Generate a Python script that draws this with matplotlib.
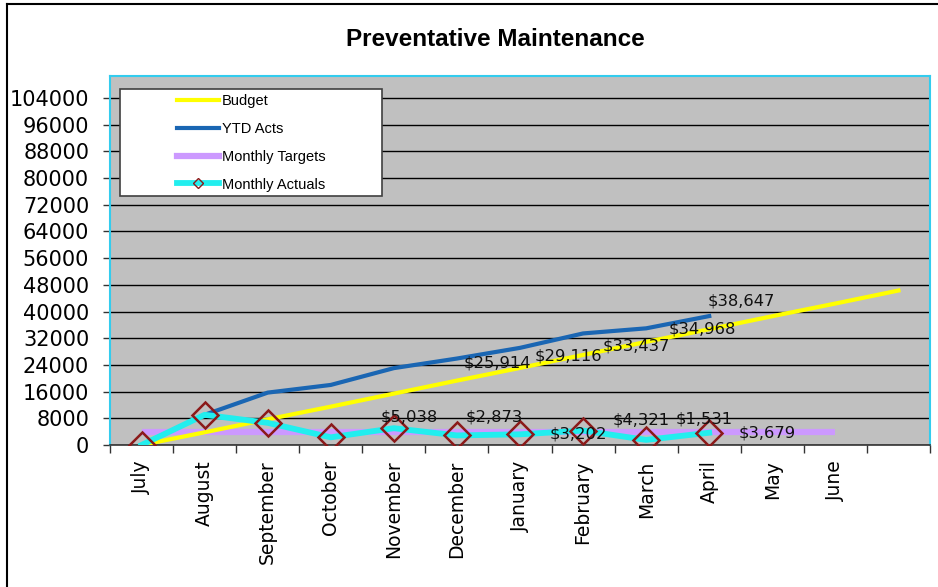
import matplotlib
matplotlib.use("Agg")
import matplotlib.pyplot as plt
import numpy as np
from matplotlib.lines import Line2D
from matplotlib.patches import Rectangle

# ---- data ----
months = ["July", "August", "September", "October", "November", "December",
          "January", "February", "March", "April", "May", "June", ""]
budget = [0, 3800, 7700, 11500, 15400, 19300, 23100, 27000, 30900, 34700, 38600, 42400, 46300]
ytd_acts = [0, 9050, 15700, 18003, 23041, 25914, 29116, 33437, 34968, 38647]
monthly_targets = [3858] * 12
monthly_actuals = [0, 9050, 6650, 2303, 5038, 2873, 3202, 4321, 1531, 3679]

# which points carry a value label, and where the label sits (pixels from the point)
ytd_lab_idx = [5, 6, 7, 8, 9]
ytd_lab_off = [(40, -4), (48, -8), (53, -13), (56, -1), (32, 15)]
act_lab_idx = [4, 5, 6, 7, 8, 9]
act_lab_off = [(15, 11), (37, 18), (58, 0), (58, 11), (58, 21), (58, 0)]

BG = "#c0c0c0"
YELLOW = "#ffff00"
BLUE = "#1a66b3"
LAV = "#cc99ff"
CYAN = "#22eeee"
DRED = "#8b1a1a"

fig = plt.figure(figsize=(9.38, 5.87), dpi=100)
ax = fig.add_axes([110 / 938, 1 - 445 / 587, 820 / 938, 369 / 587])
ax.set_facecolor(BG)

x_b = np.arange(len(budget))
ax.plot(np.arange(len(monthly_targets)), monthly_targets, color=LAV, lw=4.5,
        solid_capstyle="butt", zorder=2, label="Monthly Targets")
ax.plot(x_b, budget, color=YELLOW, lw=3.0, zorder=3, label="Budget")
ax.plot(np.arange(len(ytd_acts)), ytd_acts, color=BLUE, lw=3.0, zorder=4, label="YTD Acts")
ax.plot(np.arange(len(monthly_actuals)), monthly_actuals, color=CYAN, lw=4.2, zorder=5,
        marker="D", ms=13, mfc="none", mec=DRED, mew=1.8, label="Monthly Actuals")

lab_font = dict(family="DejaVu Sans", size=11.8, color="#111111")
for i, (dx, dy) in zip(ytd_lab_idx, ytd_lab_off):
    ax.annotate("${:,}".format(ytd_acts[i]), (i, ytd_acts[i]), xytext=(dx * 0.72, dy * 0.72),
                textcoords="offset points", ha="center", va="center", zorder=6, **lab_font)
for i, (dx, dy) in zip(act_lab_idx, act_lab_off):
    ax.annotate("${:,}".format(monthly_actuals[i]), (i, monthly_actuals[i]), xytext=(dx * 0.72, dy * 0.72),
                textcoords="offset points", ha="center", va="center", zorder=6, **lab_font)

# axes
ax.set_xlim(-0.5, len(months) - 0.5)
ax.set_ylim(0, 110600)
ax.set_yticks(np.arange(0, 104001, 8000))
ax.yaxis.grid(True, color="black", lw=1.0, zorder=1)
ax.set_axisbelow(True)
ax.tick_params(axis="y", length=5, width=1, color="#333333", pad=10, labelsize=15)
for t in ax.get_yticklabels():
    t.set_family("DejaVu Sans")

ax.set_xticks(np.arange(len(months) + 1) - 0.5)
ax.set_xticklabels([])
ax.tick_params(axis="x", which="major", length=6, width=1, color="#333333")
ax.set_xticks(np.arange(len(months)), minor=True)
ax.set_xticklabels(months, minor=True, rotation=90, fontsize=13.5, family="DejaVu Sans")
ax.tick_params(axis="x", which="minor", length=0, pad=11)

for s in ["left", "top", "right"]:
    ax.spines[s].set_color("#33ccee")
    ax.spines[s].set_linewidth(1.5)
ax.spines["bottom"].set_color("#333333")
ax.spines["bottom"].set_linewidth(1.2)

# legend (Excel style box, content centred inside)
ax.add_patch(Rectangle((10 / 820, (445 - 196) / 369), 262 / 820, 107 / 369,
                       transform=ax.transAxes, facecolor="white", edgecolor="#404040",
                       lw=1.2, zorder=7, clip_on=False))
handles = [
    Line2D([], [], color=YELLOW, lw=3.0),
    Line2D([], [], color=BLUE, lw=3.0),
    Line2D([], [], color=LAV, lw=4.5),
    Line2D([], [], color=CYAN, lw=4.2, marker="D", ms=5, mfc="none", mec=DRED, mew=1),
]
leg = ax.legend(handles, ["Budget", "YTD Acts", "Monthly Targets", "Monthly Actuals"],
                loc="upper left", bbox_to_anchor=((177 - 110) / 820, (445 - 94) / 369),
                frameon=False, borderpad=0, borderaxespad=0, handlelength=2.9,
                handletextpad=0.2, labelspacing=0.95, numpoints=1,
                prop={"family": "Liberation Sans", "size": 10.5})
leg.set_zorder(8)

# title and outer frame
fig.text(495 / 938, 1 - 40 / 587, "Preventative Maintenance", ha="center", va="center",
         fontsize=17.5, fontweight="bold", family="Liberation Sans")
fig.add_artist(Line2D([7 / 938, 1], [1 - 4 / 587, 1 - 4 / 587], color="black", lw=1.5))
fig.add_artist(Line2D([7 / 938, 7 / 938], [0, 1 - 4 / 587], color="black", lw=1.5))

fig.savefig("out.png", dpi=100, facecolor="white")
